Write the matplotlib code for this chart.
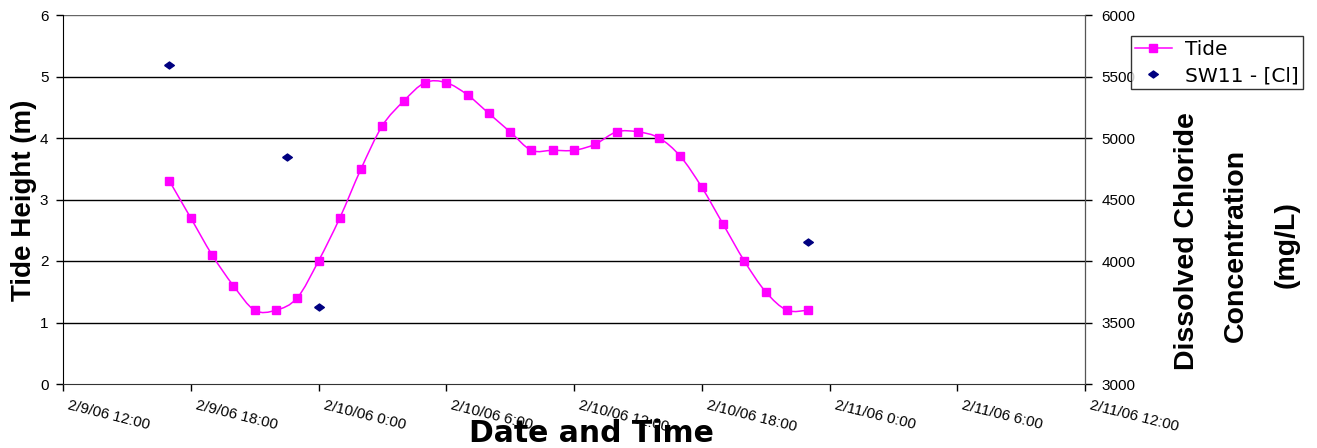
import matplotlib
matplotlib.use("Agg")
import matplotlib.pyplot as plt
import matplotlib.dates as mdates
from matplotlib.path import Path
from matplotlib.patches import PathPatch
from matplotlib.lines import Line2D
import numpy as np
import datetime as dt

# ---- data ----
tide_times = ["2006-02-09 17:00", "2006-02-09 18:00", "2006-02-09 19:00", "2006-02-09 20:00",
              "2006-02-09 21:00", "2006-02-09 22:00", "2006-02-09 23:00", "2006-02-10 00:00",
              "2006-02-10 01:00", "2006-02-10 02:00", "2006-02-10 03:00", "2006-02-10 04:00",
              "2006-02-10 05:00", "2006-02-10 06:00", "2006-02-10 07:00", "2006-02-10 08:00",
              "2006-02-10 09:00", "2006-02-10 10:00", "2006-02-10 11:00", "2006-02-10 12:00",
              "2006-02-10 13:00", "2006-02-10 14:00", "2006-02-10 15:00", "2006-02-10 16:00",
              "2006-02-10 17:00", "2006-02-10 18:00", "2006-02-10 19:00", "2006-02-10 20:00",
              "2006-02-10 21:00", "2006-02-10 22:00", "2006-02-10 23:00"]
tide_height = [3.3, 2.7, 2.1, 1.6, 1.2, 1.2, 1.4, 2.0, 2.7, 3.5, 4.2, 4.6, 4.9, 4.9, 4.7, 4.4,
               4.1, 3.8, 3.8, 3.8, 3.9, 4.1, 4.1, 4.0, 3.7, 3.2, 2.6, 2.0, 1.5, 1.2, 1.2]
cl_times = ["2006-02-09 17:00", "2006-02-09 22:30", "2006-02-10 00:00", "2006-02-10 23:00"]
cl_conc = [5590, 4845, 3625, 4155]
tick_labels = ["2/9/06 12:00", "2/9/06 18:00", "2/10/06 0:00", "2/10/06 6:00",
               "2/10/06 12:00", "2/10/06 18:00", "2/11/06 0:00", "2/11/06 6:00",
               "2/11/06 12:00"]

fmt = "%Y-%m-%d %H:%M"
tx = mdates.date2num([dt.datetime.strptime(s, fmt) for s in tide_times])
cx = mdates.date2num([dt.datetime.strptime(s, fmt) for s in cl_times])
ty = np.array(tide_height, dtype=float)

plt.rcParams['font.family'] = ['Liberation Sans', 'DejaVu Sans']

fig = plt.figure(figsize=(13.17, 4.48), dpi=100)
ax = fig.add_axes([63/1317, 1-384/448, (1085-63)/1317, (384-15)/448])
ax2 = ax.twinx()

x0 = mdates.date2num(dt.datetime(2006, 2, 9, 12, 0))
x1 = mdates.date2num(dt.datetime(2006, 2, 11, 12, 0))
ax.set_xlim(x0, x1)
ax.set_ylim(0, 6)
ax2.set_ylim(3000, 6000)

# smoothed line (Bezier through data points, like Excel smoothing)
pts = np.column_stack([tx, ty])
verts = [pts[0]]
codes = [Path.MOVETO]
n = len(pts)
for i in range(n - 1):
    pm = pts[i - 1] if i > 0 else pts[i]
    p0 = pts[i]
    p1 = pts[i + 1]
    p2 = pts[i + 2] if i + 2 < n else pts[i + 1]
    c1 = p0 + (p1 - pm) / 6.0
    c2 = p1 - (p2 - p0) / 6.0
    verts += [c1, c2, p1]
    codes += [Path.CURVE4] * 3
path = Path(verts, codes)
ax.add_patch(PathPatch(path, facecolor='none', edgecolor='#FF00FF', lw=1.1, zorder=3))
ax.plot(tx, ty, linestyle='none', marker='s', markersize=5.8, color='#FF00FF',
        markeredgecolor='#FF00FF', zorder=4)

diamond = [(-1, 0), (0, 0.72), (1, 0), (0, -0.72), (-1, 0)]
ax2.plot(cx, cl_conc, linestyle='none', marker=diamond, markersize=7,
         color='#000080', zorder=4)

# gridlines
ax.set_yticks(range(0, 7))
for yv in range(1, 6):
    ax.axhline(yv, color='black', lw=1.0, zorder=1)
ax.axhline(6, color='#666666', lw=1.0, zorder=1)

xt = np.linspace(x0, x1, len(tick_labels))
ax.set_xticks(xt)
ax.set_xticklabels([])
for xv, lab in zip(xt, tick_labels):
    ax.annotate(lab, xy=(xv, 0), xycoords=('data', 'axes fraction'),
                xytext=(5, -21), textcoords='offset pixels',
                rotation=-14, rotation_mode='anchor', ha='left', va='center',
                fontsize=10.8)

ax.tick_params(axis='both', direction='out', length=5, width=1, labelsize=11, colors='black')
ax.tick_params(axis='y', pad=5.5)
ax2.set_yticks(range(3000, 6001, 500))
ax2.tick_params(axis='y', direction='out', length=5, width=1, labelsize=11, pad=7)

for a in (ax, ax2):
    a.spines['top'].set_visible(False)
ax.spines['left'].set_color('black')
ax.spines['bottom'].set_color('#333333')
ax2.spines['right'].set_color('#555555')
ax2.spines['left'].set_visible(False)
ax2.spines['bottom'].set_visible(False)

fig.text(24/1317, 1-200/448, "Tide Height (m)", rotation=90, ha='center', va='center',
         fontsize=20, fontweight='bold')
fig.text(1187/1317, 1-241/448, "Dissolved Chloride", rotation=90, ha='center', va='center',
         fontsize=20.5, fontweight='bold')
fig.text(1236/1317, 1-245/448, "Concentration", rotation=90, ha='center', va='center',
         fontsize=20.5, fontweight='bold')
fig.text(1287/1317, 1-245/448, "(mg/L)", rotation=90, ha='center', va='center',
         fontsize=20.5, fontweight='bold')
fig.text(591/1317, 0.5/448, "Date and Time", ha='center', va='bottom',
         fontsize=21.5, fontweight='bold', family=['DejaVu Sans'])

handles = [Line2D([], [], color='#FF00FF', marker='s', markersize=5.8, lw=1.1),
           Line2D([], [], color='#000080', marker=diamond, markersize=7, linestyle='none')]
leg = fig.legend(handles, ["Tide", "SW11 - [Cl]"], loc='upper left',
                 bbox_to_anchor=(1131/1317, 1-36/448), frameon=True, fancybox=False,
                 edgecolor='black', prop={'family': 'DejaVu Sans', 'size': 14.5},
                 handlelength=1.85, borderpad=0.19,
                 labelspacing=0.37, handletextpad=0.65, borderaxespad=0)
leg.get_frame().set_linewidth(1.0)

fig.savefig("out.png", dpi=100)
